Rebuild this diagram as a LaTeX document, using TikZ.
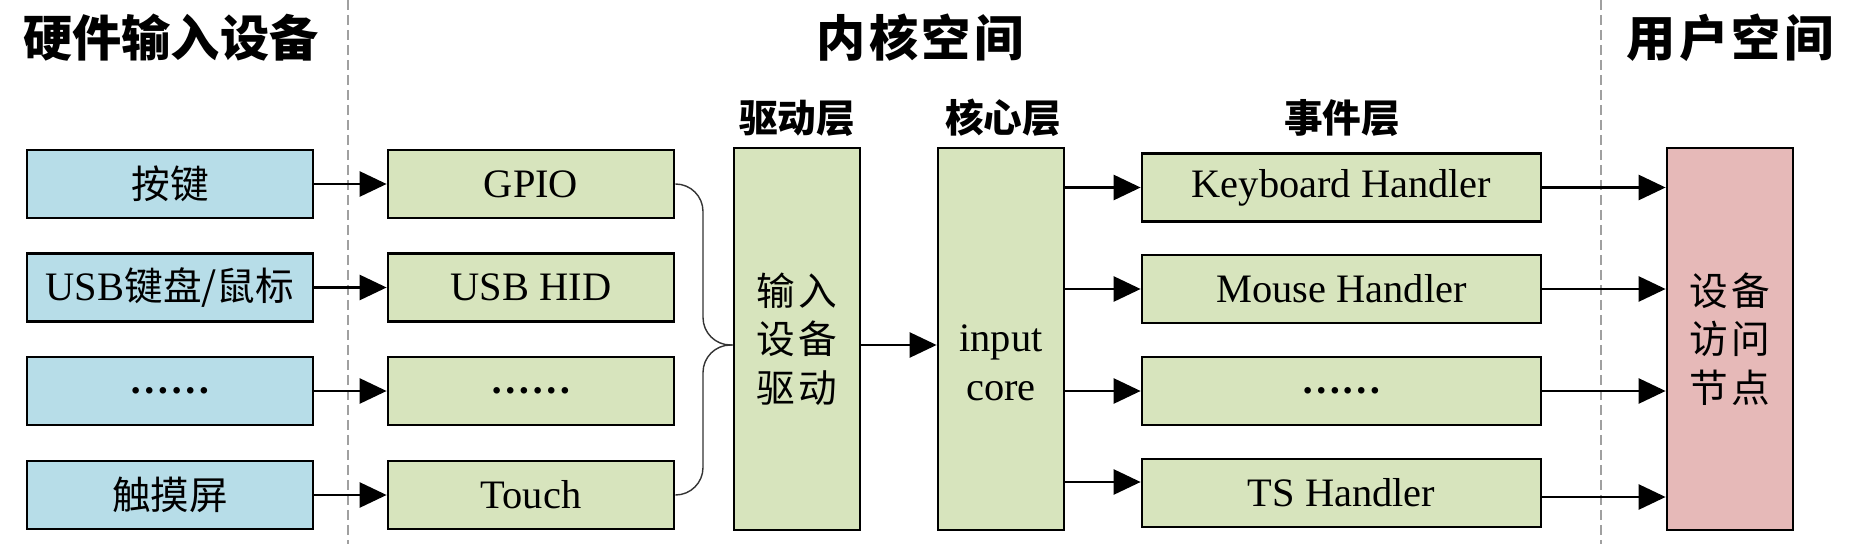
\documentclass[tikz,border=0pt]{standalone}
\usepackage{fontspec}
\setmainfont{Liberation Serif}
\newfontfamily\cjk{Noto Sans CJK SC}
\usetikzlibrary{arrows.meta}
\definecolor{boxblue}{RGB}{183,221,232}
\definecolor{boxgreen}{RGB}{215,228,189}
\definecolor{boxpink}{RGB}{230,185,184}
\definecolor{dashgray}{RGB}{160,160,160}
\tikzset{
  box/.style={draw=black, line width=1.6pt, inner sep=0pt, minimum height=1.36cm},
  bluebox/.style={box, fill=boxblue, minimum width=5.72cm},
  greenbox/.style={box, fill=boxgreen, minimum width=5.72cm},
  hbox/.style={box, fill=boxgreen, minimum width=7.98cm},
  tallbox/.style={box, minimum width=2.52cm, minimum height=7.64cm},
  txt/.style={font=\fontsize{23}{27}\selectfont},
  ctxt/.style={font=\cjk\fontsize{22}{27}\selectfont},
  vtxt/.style={font=\cjk\fontsize{22}{27.5}\selectfont, align=center},
  title/.style={font=\cjk\bfseries\fontsize{28}{32}\selectfont},
  subtitle/.style={font=\cjk\bfseries\fontsize{22}{26}\selectfont},
  arr/.style={line width=1.5pt, -{Triangle[length=0.54cm,width=0.5cm]}},
  sepline/.style={draw=dashgray, line width=1.2pt, dash pattern=on 0.2cm off 0.1cm},
  braceline/.style={draw=black!80, line width=0.8pt, rounded corners=0.55cm}
}
\newcommand{\mydots}{{\bfseries ……}}
\begin{document}
\begin{tikzpicture}[x=0.02cm, y=-0.02cm]
\useasboundingbox (0,0) rectangle (1850,544);

% separators
\coordinate (s1t) at (348,0);
\coordinate (s1b) at (348,544);
\coordinate (s2t) at (1601,0);
\coordinate (s2b) at (1601,544);
\draw[sepline] (s1t) -- (s1b);
\draw[sepline] (s2t) -- (s2b);

% titles
\node[title] (t1) at (171,38) {硬件输入设备};
\node[title] (t2) at (920,38) {内\kern0.07cm 核\kern0.07cm 空\kern0.07cm 间};
\node[title] (t3) at (1730,38) {用\kern0.07cm 户\kern0.07cm 空\kern0.07cm 间};
\node[subtitle] (st1) at (797,118) {驱动层};
\node[subtitle] (st2) at (1003,118) {核心层};
\node[subtitle] (st3) at (1342,118) {事件层};

% hardware
\node[bluebox, ctxt] (b1) at (170,184) {按键};
\node[bluebox, txt] (b2) at (170,287.5) {USB{\cjk\fontsize{22}{27}\selectfont 键盘/鼠标}};
\node[bluebox, txt] (b3) at (170,391) {\mydots};
\node[bluebox, ctxt] (b4) at (170,495) {触摸屏};

% bus drivers
\node[greenbox, txt] (g1) at (531,184) {GPIO};
\node[greenbox, txt] (g2) at (531,287.5) {USB HID};
\node[greenbox, txt] (g3) at (531,391) {\mydots};
\node[greenbox, txt] (g4) at (531,495) {Touch};

% driver / core
\node[tallbox, fill=boxgreen, vtxt] (drv) at (797,339)
  {输\kern0.08cm 入\\设\kern0.08cm 备\\驱\kern0.08cm 动};
\node[tallbox, fill=boxgreen] (core) at (1001,339) {};
\node[txt, align=center, font=\fontsize{23}{28}\selectfont] (coretxt) at (1001,363) {input\\core};

% handlers
\node[hbox, txt] (h1) at (1341.5,187.5) {Keyboard Handler};
\node[hbox, txt] (h2) at (1341.5,289) {Mouse Handler};
\node[hbox, txt] (h3) at (1341.5,391) {\mydots};
\node[hbox, txt] (h4) at (1341.5,493) {TS Handler};

% user space
\node[tallbox, fill=boxpink, vtxt] (dev) at (1730,339)
  {设\kern0.08cm 备\\访\kern0.08cm 问\\节\kern0.08cm 点};

% arrows hardware -> bus
\draw[arr] (b1) -- (g1);
\draw[arr] (b2) -- (g2);
\draw[arr] (b3) -- (g3);
\draw[arr] (b4) -- (g4);

% brace
\coordinate (tip) at ([yshift=-0.12cm]drv.west);
\coordinate (bx) at (703,345);
\draw[braceline] (g1.east) -- (g1.east -| bx) -- (bx) -- (tip);
\draw[braceline] (g4.east) -- (g4.east -| bx) -- (bx) -- (tip);

% driver -> core
\draw[arr] (drv.east |- tip) -- (core.west |- tip);

% core -> handlers
\coordinate (tsin) at ([yshift=0.22cm]h4.west);
\draw[arr] (core.east |- h1.west) -- (h1.west);
\draw[arr] (core.east |- h2.west) -- (h2.west);
\draw[arr] (core.east |- h3.west) -- (h3.west);
\draw[arr] (core.east |- tsin) -- (tsin);

% handlers -> device nodes
\coordinate (tsout) at ([yshift=-0.08cm]h4.east);
\draw[arr] (h1.east) -- (h1.east -| dev.west);
\draw[arr] (h2.east) -- (h2.east -| dev.west);
\draw[arr] (h3.east) -- (h3.east -| dev.west);
\draw[arr] (tsout) -- (tsout -| dev.west);
\end{tikzpicture}
\end{document}
